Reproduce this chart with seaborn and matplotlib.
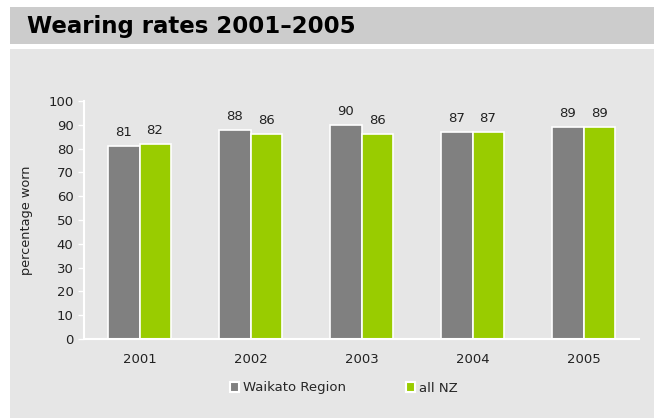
import pandas as pd
import matplotlib
matplotlib.use("Agg")
import matplotlib.pyplot as plt
import seaborn as sns
from matplotlib.patches import Rectangle

# Data
years = ["2001", "2002", "2003", "2004", "2005"]
waikato = [81, 88, 90, 87, 89]
all_nz = [82, 86, 86, 87, 89]
series_names = ["Waikato Region", "all NZ"]
colors = ["#808080", "#99cc00"]

df = pd.DataFrame({
    "year": years * 2,
    "value": waikato + all_nz,
    "series": [series_names[0]] * len(years) + [series_names[1]] * len(years),
})

sns.set_style("white")
plt.rcParams['font.family'] = ['DejaVu Sans']

W, H = 658, 418
fig = plt.figure(figsize=(W / 100, H / 100), dpi=100)
fig.patch.set_facecolor("white")

# title bar and panel backgrounds
fig.patches.append(Rectangle((10 / W, 1 - 44 / H), 644 / W, 37 / H,
                             transform=fig.transFigure, facecolor="#cccccc",
                             edgecolor="none", zorder=-5))
fig.patches.append(Rectangle((10 / W, 0), 644 / W, 1 - 49 / H,
                             transform=fig.transFigure, facecolor="#e6e6e6",
                             edgecolor="none", zorder=-5))
fig.text(27 / W, 1 - 26 / H, "Wearing rates 2001\u20132005", fontsize=16.5,
         fontweight="bold", va="center", ha="left", color="black")

ax = fig.add_axes([84 / W, 79 / H, 555 / W, 238 / H])
ax.set_facecolor("none")

sns.barplot(data=df, x="year", y="value", hue="series", palette=colors,
            saturation=1, width=0.56, edgecolor="white", linewidth=1.2,
            ax=ax, legend=False)

for cont in ax.containers:
    ax.bar_label(cont, padding=5, fontsize=9.5, color="#222222")

ax.set_ylim(0, 100)
ax.set_yticks(range(0, 101, 10))
ax.set_xlim(-0.5, 4.5)
ax.set_xlabel("")
ax.set_ylabel("percentage worn", fontsize=9.3, color="#222222", labelpad=11)
ax.tick_params(axis="y", colors="white", labelcolor="#222222", labelsize=9.5,
               length=4, width=1, left=True)
ax.tick_params(axis="x", length=0, labelsize=9.5, labelcolor="#222222", pad=10)
for side in ["top", "right"]:
    ax.spines[side].set_visible(False)
for side in ["left", "bottom"]:
    ax.spines[side].set_color("white")
    ax.spines[side].set_linewidth(1.5)

handles = [Rectangle((0, 0), 1, 1, facecolor=c, edgecolor="white", linewidth=1.5)
           for c in colors]
fig.legend(handles, series_names, loc="center", bbox_to_anchor=(344 / W, 1 - 388 / H),
           ncol=2, frameon=False, fontsize=9.5, handlelength=0.7, handleheight=0.7,
           handletextpad=0.3, columnspacing=4.5)

fig.savefig("out.png", dpi=100, facecolor="white")
